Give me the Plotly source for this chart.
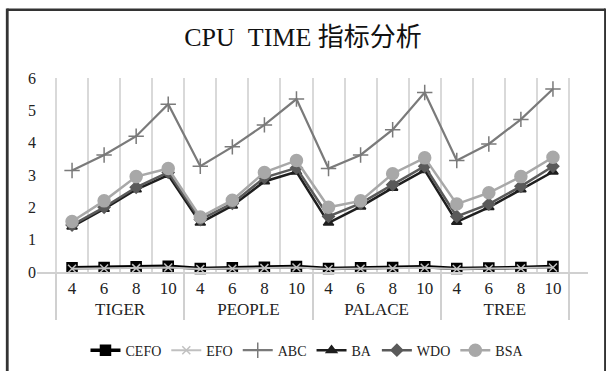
import plotly.graph_objects as go

# Two-level category axis: image set / parameter value
groups = ["TIGER"] * 4 + ["PEOPLE"] * 4 + ["PALACE"] * 4 + ["TREE"] * 4
sizes = ["4", "6", "8", "10"] * 4

CEFO = [0.13, 0.14, 0.16, 0.18, 0.11, 0.13, 0.15, 0.17, 0.11, 0.13, 0.14, 0.16, 0.11, 0.12, 0.14, 0.17]
EFO = [0.10, 0.11, 0.12, 0.14, 0.09, 0.10, 0.12, 0.14, 0.09, 0.10, 0.11, 0.13, 0.09, 0.10, 0.11, 0.14]
ABC = [3.14, 3.62, 4.20, 5.19, 3.27, 3.87, 4.55, 5.35, 3.20, 3.62, 4.40, 5.55, 3.45, 3.96, 4.72, 5.66]
BA = [1.40, 1.95, 2.55, 3.00, 1.52, 2.05, 2.80, 3.10, 1.52, 2.02, 2.60, 3.15, 1.55, 2.00, 2.55, 3.10]
WDO = [1.45, 2.00, 2.62, 3.08, 1.62, 2.12, 2.92, 3.22, 1.72, 2.12, 2.70, 3.27, 1.72, 2.10, 2.65, 3.27]
BSA = [1.56, 2.20, 2.95, 3.20, 1.70, 2.22, 3.08, 3.45, 2.00, 2.20, 3.04, 3.53, 2.10, 2.45, 2.95, 3.55]

series = [
    ("CEFO", CEFO, "#000000", 3.5, "square", 10),
    ("EFO", EFO, "#c0c0c0", 2, "x-thin-open", 8),
    ("ABC", ABC, "#7a7a7a", 2.2, "cross-thin-open", 11),
    ("BA", BA, "#1e1e1e", 2.5, "triangle-up", 9),
    ("WDO", WDO, "#5a5a5a", 2.5, "diamond", 9),
    ("BSA", BSA, "#a8a8a8", 2.5, "circle", 12),
]

serif = "'Liberation Serif', 'Times New Roman', serif"
title_font = "'Liberation Serif', 'Noto Sans CJK SC', serif"

fig = go.Figure()
for name, vals, color, lw, sym, ms in series:
    fig.add_trace(go.Scatter(
        x=[groups, sizes], y=vals, name=name, mode="lines+markers",
        line=dict(color=color, width=lw),
        marker=dict(symbol=sym, size=ms, color=color,
                    line=dict(color=color, width=1.5)),
        cliponaxis=False,
    ))

fig.update_layout(
    width=606, height=371,
    margin=dict(l=37, r=18, t=78, b=99, autoexpand=False),
    paper_bgcolor="white", plot_bgcolor="white",
    title=dict(text="CPU&nbsp;&nbsp;TIME 指标分析", x=0.5, xanchor="center",
               y=0.9, yanchor="middle",
               font=dict(family=title_font, size=26, color="#111111")),
    font=dict(family=serif, size=15, color="#222222"),
    showlegend=True,
    legend=dict(orientation="h", x=0.49, xanchor="center",
                yref="container", y=0.055, yanchor="middle",
                font=dict(family=serif, size=14, color="#222222"),
                itemwidth=30, tracegroupgap=0),
    xaxis=dict(type="multicategory", tickson="boundaries", showgrid=True,
               gridcolor="#d9d9d9", gridwidth=1.5, showline=True,
               linecolor="#d0d0d0", linewidth=1.5, ticks="",
               showdividers=True, dividercolor="#d0d0d0", dividerwidth=1.5,
               automargin=False,
               tickfont=dict(family=serif, size=17, color="#222222")),
    yaxis=dict(range=[0, 6], dtick=1, showgrid=False, zeroline=False,
               showline=False, ticks="", ticklen=0, automargin=False,
               tickfont=dict(family=serif, size=16, color="#222222")),
)

# Outer frame (top, left, right edges)
fig.add_shape(type="line", xref="paper", yref="paper",
              x0=-0.054, x1=1.031, y0=1.352, y1=1.352,
              line=dict(color="#333333", width=2.5))
fig.add_shape(type="line", xref="paper", yref="paper",
              x0=-0.054, x1=-0.054, y0=1.358, y1=-0.6,
              line=dict(color="#333333", width=2.8))
fig.add_shape(type="line", xref="paper", yref="paper",
              x0=1.031, x1=1.031, y0=1.358, y1=-0.6,
              line=dict(color="#333333", width=2))

fig.write_html("out.html")
